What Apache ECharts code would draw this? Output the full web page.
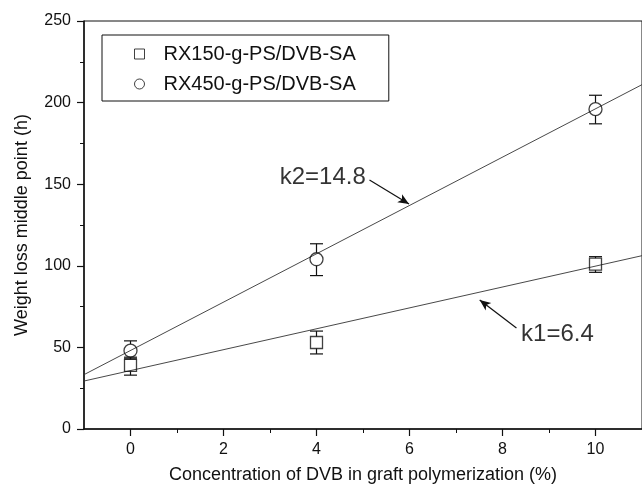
<!DOCTYPE html>
<html>
<head>
    <meta charset="UTF-8">
    <title>Weight loss middle point</title>
    <style type="text/css">
        body, html{width:100%;height:100%;margin:0;background:#fff;}
        #main{width:642px;height:492px;}
    </style>
    <script src="https://cdn.jsdelivr.net/npm/echarts@6/dist/echarts.min.js"></script>
</head>
<body>
<div id="main"></div>
<script type="text/javascript">
    // data
    var dvb = [0, 4, 10];
    var rx150 = [39, 53, 101];
    var rx150Low = [33, 46, 96];
    var rx150High = [44, 60, 105.6];
    var rx450 = [48, 104, 196];
    var rx450Low = [43, 94, 187];
    var rx450High = [54, 113.5, 204.5];

    // fitted lines, ends at x = -1 and x = 11
    var fitX = [-1, 11];
    var fit1 = [29.4, 106.2];
    var fit2 = [33.3, 211];

    var xTicks = [0, 2, 4, 6, 8, 10];
    var xMinor = [1, 3, 5, 7, 9];

    // annotations: text anchor, arrow tail, arrow tip (data coords)
    var noteK1 = {text: 'k1=6.4', at: [8.40, 58.2], from: [8.30, 61.9], to: [7.51, 79]};
    var noteK2 = {text: 'k2=14.8', at: [5.06, 154.4], from: [5.14, 152.6], to: [5.99, 137.9]};

    var ink = '#111';
    var font = '"Liberation Sans", Arial, sans-serif';

    function pairs(xs, ys){
        return xs.map(function(x, i){ return [x, ys[i]]; });
    }
    function errData(ys, lo, hi){
        return dvb.map(function(x, i){ return [x, ys[i], lo[i], hi[i]]; });
    }

    function errBar(gap){
        return function(params, api){
            var c = api.coord([api.value(0), api.value(1)]);
            var lo = api.coord([api.value(0), api.value(2)]);
            var hi = api.coord([api.value(0), api.value(3)]);
            var w = 6.5;
            var st = {stroke: ink, lineWidth: 1.2};
            var kids = [
                {type:'line', shape:{x1:c[0]-w, y1:hi[1], x2:c[0]+w, y2:hi[1]}, style:st},
                {type:'line', shape:{x1:c[0]-w, y1:lo[1], x2:c[0]+w, y2:lo[1]}, style:st}
            ];
            if (hi[1] < c[1]-gap) kids.push({type:'line', shape:{x1:c[0], y1:hi[1], x2:c[0], y2:c[1]-gap}, style:st});
            if (lo[1] > c[1]+gap) kids.push({type:'line', shape:{x1:c[0], y1:c[1]+gap, x2:c[0], y2:lo[1]}, style:st});
            return {type:'group', children: kids};
        };
    }

    function arrow(note){
        return {
            silent: true,
            symbol: ['none', 'arrow'],
            symbolSize: [7, 11],
            label: {show: false},
            lineStyle: {color: ink, width: 1.2, type: 'solid'},
            data: [[{coord: note.from}, {coord: note.to}]]
        };
    }

    var chart = echarts.init(document.getElementById('main'));
    chart.setOption({
        animation: false,
        backgroundColor: '#fff',
        textStyle: {fontFamily: font, color: ink},
        grid: {left: 84, top: 21, right: -5, bottom: 63, show: true, borderColor: ink, borderWidth: 1},
        legend: {
            left: 102, top: 35,
            orient: 'vertical',
            padding: [9, 33, 7, 32],
            itemGap: 10,
            itemWidth: 10, itemHeight: 10,
            borderColor: ink, borderWidth: 1,
            textStyle: {fontSize: 20, color: ink, fontFamily: font, padding: [0, 0, 0, 14]},
            data: [
                {name: 'RX150-g-PS/DVB-SA', icon: 'rect', itemStyle: {color: '#fff', borderColor: ink, borderWidth: 1}},
                {name: 'RX450-g-PS/DVB-SA', icon: 'circle', itemStyle: {color: '#fff', borderColor: ink, borderWidth: 1}}
            ]
        },
        xAxis: [{
            type: 'value', min: -1, max: 11,
            name: 'Concentration of DVB in graft polymerization (%)',
            nameLocation: 'middle', nameGap: 37,
            nameTextStyle: {fontSize: 18, color: ink, fontFamily: font},
            axisLine: {lineStyle: {color: ink, width: 1.5}},
            axisTick: {length: 7, customValues: xTicks, lineStyle: {color: ink, width: 1.2}},
            axisLabel: {customValues: xTicks, fontSize: 16, color: ink, margin: 13},
            splitLine: {show: false}
        }, {
            type: 'value', min: -1, max: 11, position: 'bottom',
            axisLine: {show: false},
            axisTick: {length: 4, customValues: xMinor, lineStyle: {color: ink, width: 1}},
            axisLabel: {show: false},
            splitLine: {show: false}
        }],
        yAxis: {
            type: 'value', min: 0, max: 250, interval: 50,
            name: 'Weight loss middle point (h)',
            nameLocation: 'middle', nameGap: 53,
            nameTextStyle: {fontSize: 18, color: ink, fontFamily: font},
            axisLine: {show: true, onZero: false, lineStyle: {color: ink, width: 1.5}},
            axisTick: {show: true, length: 7, lineStyle: {color: ink, width: 1.2}},
            minorTick: {show: true, splitNumber: 2, length: 4, lineStyle: {color: ink, width: 1}},
            axisLabel: {fontSize: 16, color: ink, margin: 13},
            splitLine: {show: false}
        },
        series: [
            {
                name: 'fit1', type: 'line', data: pairs(fitX, fit1),
                symbol: 'none', lineStyle: {color: '#333', width: 0.9}, z: 2,
                markLine: arrow(noteK1)
            },
            {
                name: 'fit2', type: 'line', data: pairs(fitX, fit2),
                symbol: 'none', lineStyle: {color: '#333', width: 0.9}, z: 2,
                markLine: arrow(noteK2)
            },
            {
                name: 'err150', type: 'custom', renderItem: errBar(6),
                data: errData(rx150, rx150Low, rx150High), z: 3
            },
            {
                name: 'err450', type: 'custom', renderItem: errBar(6.5),
                data: errData(rx450, rx450Low, rx450High), z: 3
            },
            {
                name: 'RX150-g-PS/DVB-SA', type: 'scatter', data: pairs(dvb, rx150),
                symbol: 'rect', symbolSize: 12,
                itemStyle: {color: 'rgba(255,255,255,0)', borderColor: ink, borderWidth: 1.3}, z: 4
            },
            {
                name: 'RX450-g-PS/DVB-SA', type: 'scatter', data: pairs(dvb, rx450),
                symbol: 'circle', symbolSize: 13,
                itemStyle: {color: 'rgba(255,255,255,0)', borderColor: ink, borderWidth: 1.3}, z: 4
            },
            {
                name: 'notes', type: 'scatter', symbolSize: 0, silent: true,
                data: [
                    {value: [noteK1.at[0], noteK1.at[1], noteK1.text], label: {align: 'left'}},
                    {value: [noteK2.at[0], noteK2.at[1], noteK2.text], label: {align: 'right'}}
                ],
                label: {
                    show: true, position: 'inside', fontSize: 24, color: '#000', fontFamily: font,
                    formatter: function(p){ return p.value[2]; }
                }
            }
        ]
    });
</script>
</body>
</html>
